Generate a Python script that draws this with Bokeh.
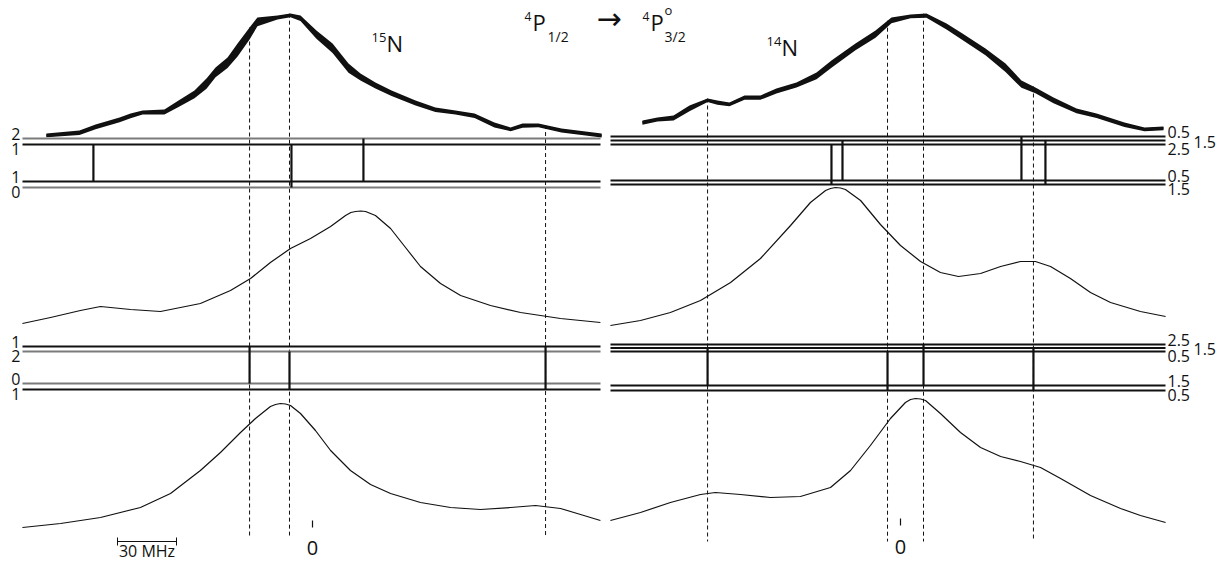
import numpy as np
from bokeh.plotting import figure
from bokeh.models import Range1d
from bokeh.core.properties import value
from bokeh.embed import file_html
from bokeh.resources import INLINE

# ------------------------------------------------------------------
# Data: frequency offsets (MHz) from each isotope's zero, signals in
# arbitrary units.
# ------------------------------------------------------------------

# 15N recorded trace
n15_rec_mhz = [-135.3, -118.5, -110.3, -98.1, -92.5, -86.4, -75.3, -68.1, -60.0, -53.9,
               -49.3, -43.2, -38.1, -32.0, -28.0, -17.8, -11.2, -6.1, 2.0, 10.2,
               18.3, 24.4, 32.0, 40.2, 52.4, 62.5, 72.7, 82.4, 92.5, 100.7,
               106.8, 114.9, 126.6, 147.0]
n15_rec_sig = [2, 5, 11, 18, 22, 25, 26, 35, 45, 57,
               68, 78, 92, 108, 118, 120, 122, 120, 105, 92,
               72, 62, 53, 45, 35, 28, 25, 22, 13, 8,
               12, 12, 7, 2]

# 14N recorded trace
n14_rec_mhz = [-131.2, -123.6, -115.4, -107.3, -98.1, -93.1, -87.0, -79.3, -71.2, -63.1,
               -52.9, -42.7, -35.1, -22.9, -12.7, -4.6, 5.1, 13.2, 23.4, 31.5,
               43.2, 53.4, 61.5, 68.6, 77.8, 89.5, 99.7, 113.9, 124.1, 133.7]
n14_rec_sig = [15, 18, 20, 30, 37, 35, 33, 40, 40, 47,
               53, 63, 75, 92, 105, 118, 121, 122, 112, 102,
               87, 72, 55, 48, 38, 27, 22, 13, 8, 9]

# 15N profile for the first level scheme
n15_a_mhz = [-147.5, -133.2, -118.0, -107.8, -92.5, -77.3, -57.0, -41.7, -31.5, -21.4,
             -11.2, -1.0, 9.2, 16.8, 19.5, 21.9, 24.5, 27.0, 32.0, 39.7, 47.3, 54.9,
             65.1, 75.3, 90.5, 105.8, 126.1, 146.4]
n15_a_sig = [7, 13, 20, 24, 21, 19, 27, 40, 52, 68,
             82, 92, 104, 115, 118, 119, 119.5, 119, 115, 102, 83, 64,
             47, 35, 25, 18, 12, 8]

# 14N profile for the first level scheme
n14_a_mhz = [-147.5, -132.2, -117.0, -101.7, -86.4, -71.2, -55.9, -45.8, -38.1, -35.6, -33.1,
             -30.5, -28.0, -20.3, -10.2, 0.0, 10.2, 20.3, 29.5, 40.7, 50.9, 61.0,
             68.6, 76.3, 86.4, 96.6, 106.8, 122.0, 134.8]
n14_a_sig = [5, 10, 18, 30, 48, 72, 105, 128, 140, 142, 143,
             142.5, 141, 130, 106, 85, 69, 58, 54, 57, 64, 69,
             69, 64, 52, 38, 28, 19, 14]

# 15N profile for the second level scheme
n15_b_mhz = [-147.5, -128.1, -107.8, -87.5, -72.2, -57.0, -46.8, -36.6, -29.0, -21.4,
             -18.8, -16.3, -13.7, -11.2, -6.1, 1.5, 9.2, 19.3, 29.5, 39.7, 54.9, 70.2,
             85.4, 100.7, 113.4, 126.1, 136.3, 146.4]
n15_b_sig = [3, 7, 13, 23, 37, 60, 78, 98, 112, 124,
             126, 127, 126.5, 125, 117, 100, 80, 60, 46, 37, 28, 23,
             21, 23, 25, 22, 16, 10]

# 14N profile for the second level scheme
n14_b_mhz = [-147.5, -132.2, -117.0, -101.7, -94.1, -81.4, -66.1, -50.9, -35.6, -25.4,
             -15.3, -5.1, 2.5, 5.1, 7.6, 10.2, 12.7, 20.3, 30.5, 40.7, 50.9, 61.0,
             71.2, 81.4, 96.6, 111.9, 122.0, 134.8]
n14_b_sig = [10, 18, 28, 36, 38, 36, 33, 34, 43, 60,
             85, 112, 128, 131, 132, 131.5, 130, 117, 98, 83, 74, 69,
             63, 52, 35, 22, 15, 8]

# hyperfine levels (upper group, lower group) for each scheme
n15_a_upper = ["2", "1"]
n15_a_lower = ["1", "0"]
n15_b_upper = ["1", "2"]
n15_b_lower = ["0", "1"]
n14_a_upper = ["0.5", "1.5", "2.5"]
n14_a_lower = ["0.5", "1.5"]
n14_b_upper = ["2.5", "1.5", "0.5"]
n14_b_lower = ["1.5", "0.5"]

# hyperfine components: position (MHz), upper F, lower F
n15_a_lines = [-111.4, -10.7, 25.9]
n15_a_line_up = ["1", "1", "2"]
n15_a_line_lo = ["1", "0", "1"]

n15_b_lines = [-32.0, -11.7, 118.5]
n15_b_line_up = ["1", "2", "1"]
n15_b_line_lo = ["0", "1", "1"]

n14_a_lines = [-35.1, -29.5, 61.5, 73.7]
n14_a_line_up = ["2.5", "1.5", "0.5", "1.5"]
n14_a_line_lo = ["1.5", "0.5", "0.5", "1.5"]

n14_b_lines = [-98.1, -6.6, 11.7, 67.6]
n14_b_line_up = ["1.5", "0.5", "2.5", "1.5"]
n14_b_line_lo = ["1.5", "0.5", "1.5", "0.5"]

# ------------------------------------------------------------------
# Layout
# ------------------------------------------------------------------
W, H = 1226, 561
PX_PER_MHZ = 59 / 30          # length of the 30 MHz bar
ZERO15, ZERO14 = 312, 900     # screen columns of the two zeros
SHIFT14 = (ZERO14 - ZERO15) / PX_PER_MHZ
TOP_BASE, MID_BASE, BOT_BASE = 135, 330, 530
FONT = value("Open Sans")
INK = "#111111"
GREY = "#7a7a7a"


def dx(px):
    """screen column -> data x (MHz, 15N frame)"""
    return (px - ZERO15) / PX_PER_MHZ


p = figure(width=W, height=H, x_range=Range1d(dx(0), dx(W)), y_range=Range1d(H, 0),
           output_backend="svg", toolbar_location=None, min_border=0,
           x_axis_location=None, y_axis_location=None)
p.grid.visible = False
p.outline_line_color = None
p.background_fill_color = "white"
p.border_fill_color = "white"


def label(x, y, txt, size, align="left", baseline="middle", font=FONT):
    p.text(x=[x], y=[y], text=[txt], text_font=font, text_font_size=size,
           text_align=align, text_baseline=baseline, text_color=INK)


def draw_trace(f, s, shift):
    """recorded trace drawn as a pen band, wider where the trace is steep"""
    f = np.asarray(f, float)
    top = TOP_BASE - np.asarray(s, float)
    slope = np.abs(np.gradient(top, f * PX_PER_MHZ))
    perp = 3.5 + 3.0 * np.minimum(slope, 1.5)
    width = perp * np.sqrt(1 + slope ** 2)
    p.varea(x=f + shift, y1=top, y2=top + width, fill_color=INK)
    p.line(x=f + shift, y=top + width / 2, line_color=INK, line_width=2.5,
           line_join="round")
    return f, top


def draw_profile(f, s, base, shift):
    p.line(x=np.asarray(f, float) + shift, y=base - np.asarray(s, float),
           line_color=INK, line_width=1.2, line_join="round")


def draw_levels(names, rows, colors, x0, x1):
    p.segment(x0=[x0] * len(rows), x1=[x1] * len(rows), y0=rows, y1=rows,
              line_color=colors, line_width=1.8)
    return dict(zip(names, rows))


def draw_components(f, ups, los, up_rows, lo_rows, shift):
    xs = [v + shift for v in f]
    p.segment(x0=xs, x1=xs, y0=[up_rows[u] for u in ups], y1=[lo_rows[l] for l in los],
              line_color=INK, line_width=2.2)


def draw_markers(f, trace_f, trace_top, bottom, shift):
    xs = [v + shift for v in f]
    y0 = list(np.interp(f, trace_f, trace_top))
    p.segment(x0=xs, x1=xs, y0=y0, y1=[bottom] * len(f), line_color=INK,
              line_width=1, line_dash="4 3")


# ---------------- 15N (left) ----------------
tf15, tt15 = draw_trace(n15_rec_mhz, n15_rec_sig, 0)
draw_markers(n15_b_lines, tf15, tt15, 535, 0)
draw_profile(n15_a_mhz, n15_a_sig, MID_BASE, 0)
draw_profile(n15_b_mhz, n15_b_sig, BOT_BASE, 0)

L0, L1 = dx(22), dx(600)
up = draw_levels(n15_a_upper, [138, 144], [GREY, INK], L0, L1)
lo = draw_levels(n15_a_lower, [181, 187], [INK, GREY], L0, L1)
draw_components(n15_a_lines, n15_a_line_up, n15_a_line_lo, up, lo, 0)
up = draw_levels(n15_b_upper, [346, 351], [INK, GREY], L0, L1)
lo = draw_levels(n15_b_lower, [383, 389], [GREY, INK], L0, L1)
draw_components(n15_b_lines, n15_b_line_up, n15_b_line_lo, up, lo, 0)

for names, rows in ((n15_a_upper, [138, 144]), (n15_a_lower, [181, 187]),
                    (n15_b_upper, [346, 351]), (n15_b_lower, [383, 389])):
    label(dx(20), rows[0] + 1.5, names[0], "16px", "right", "bottom")
    label(dx(20), rows[1] - 2, names[1], "16px", "right", "top")

# ---------------- 14N (right) ----------------
tf14, tt14 = draw_trace(n14_rec_mhz, n14_rec_sig, SHIFT14)
draw_markers(n14_b_lines, tf14, tt14, 541, SHIFT14)
draw_profile(n14_a_mhz, n14_a_sig, MID_BASE, SHIFT14)
draw_profile(n14_b_mhz, n14_b_sig, BOT_BASE, SHIFT14)

R0, R1 = dx(610), dx(1165)
up = draw_levels(n14_a_upper, [136, 140, 144], [INK] * 3, R0, R1)
lo = draw_levels(n14_a_lower, [180, 184], [INK] * 2, R0, R1)
draw_components(n14_a_lines, n14_a_line_up, n14_a_line_lo, up, lo, SHIFT14)
up = draw_levels(n14_b_upper, [344, 347.5, 351], [INK] * 3, R0, R1)
lo = draw_levels(n14_b_lower, [385, 390], [INK] * 2, R0, R1)
draw_components(n14_b_lines, n14_b_line_up, n14_b_line_lo, up, lo, SHIFT14)

for names, rows in ((n14_a_upper, [136, 140, 144]), (n14_b_upper, [344, 347.5, 351])):
    label(dx(1167), rows[0] + 1.5, names[0], "16px", "left", "bottom")
    label(dx(1193), rows[1] + 1, names[1], "16px", "left", "middle")
    label(dx(1167), rows[2] - 1.5, names[2], "16px", "left", "top")
for names, rows in ((n14_a_lower, [180, 184]), (n14_b_lower, [385, 390])):
    label(dx(1167), rows[0] + 1.5, names[0], "16px", "left", "bottom")
    label(dx(1167), rows[1] - 1.5, names[1], "16px", "left", "top")

# ---------------- zeros and scale bar ----------------
p.segment(x0=[0, SHIFT14], x1=[0, SHIFT14], y0=[520, 518], y1=[527, 525],
          line_color=INK, line_width=1.2)
label(0, 547, "0", "20px", "center", "middle")
label(SHIFT14, 546, "0", "20px", "center", "middle")

bar0 = dx(117)
p.segment(x0=[bar0, bar0, bar0 + 30], x1=[bar0 + 30, bar0, bar0 + 30],
          y0=[541, 537, 537], y1=[541, 545, 545], line_color=INK, line_width=1)
label(bar0 + 15, 550, "30 MHz", "16px", "center", "middle")

# ---------------- titles ----------------
label(dx(524), 16, "4", "12px")
label(dx(532), 21, "P", "22px")
label(dx(547), 36, "1/2", "14px")
label(dx(596), 18, "\u2192", "30px", font=value("DejaVu Sans"))
label(dx(642), 16, "4", "12px")
label(dx(650), 21, "P", "22px")
label(dx(664), 9, "o", "13px")
label(dx(664), 36, "3/2", "14px")

label(dx(371), 37, "15", "13px")
label(dx(386), 42, "N", "22px")
label(dx(766), 41, "14", "13px")
label(dx(781), 46, "N", "22px")

open("out.html", "w").write(file_html(p, INLINE))
